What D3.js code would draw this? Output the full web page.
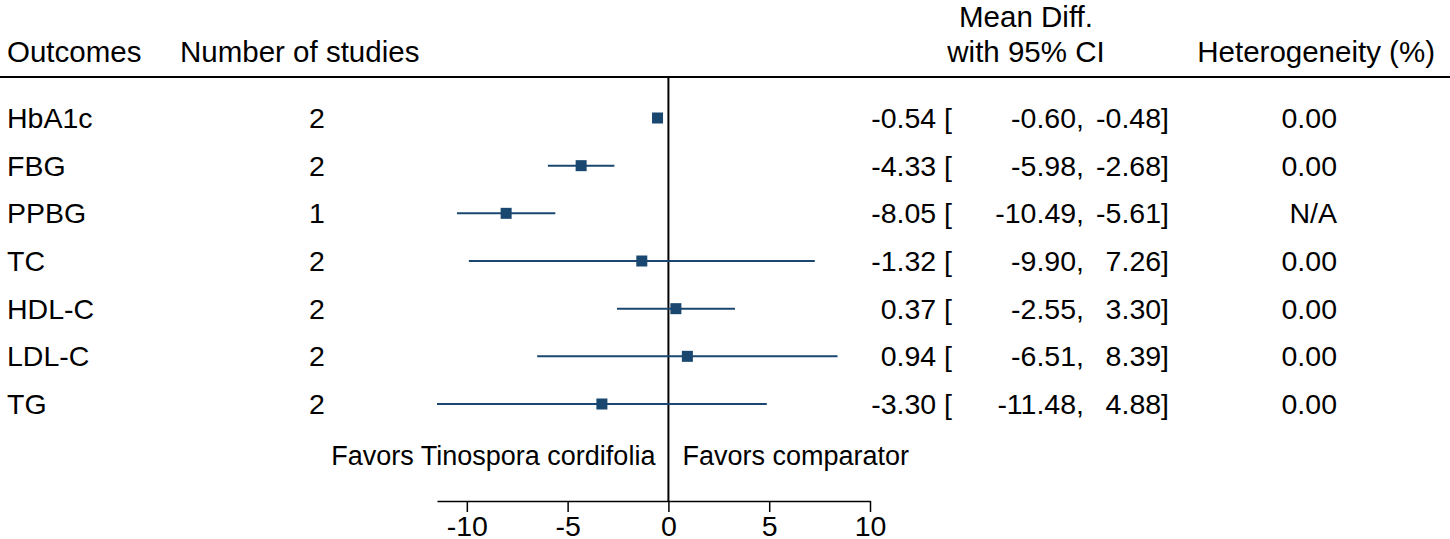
<!DOCTYPE html>
<html>
<head>
	<meta charset="UTF-8"/>
	<title>Forest plot - Tinospora cordifolia</title>
	<style type="text/css">
		body {
		margin: 0;
		background: #fff;
		font-family: 'Liberation Sans', Arial, sans-serif;
		}
		svg {
		display: block;
		}
		text {
		font-size: 28.5px;
		fill: #000;
		}
		text.head {
		font-size: 29.5px;
		}
		text.favors {
		font-size: 27px;
		}
		.ci {
		stroke: #1a476f;
		stroke-width: 2;
		}
		.est {
		fill: #1a476f;
		}
		.axis path, .axis line {
		stroke: #000;
		stroke-width: 1.5;
		}
		.axis text {
		font-size: 28.5px;
		font-family: 'Liberation Sans', Arial, sans-serif;
		}
	</style>
	<script src="https://d3js.org/d3.v7.min.js"></script>
</head>
<body>
	<svg width="1450" height="539"></svg>
	<script>
		// values
		const outcomes = ['HbA1c', 'FBG', 'PPBG', 'TC', 'HDL-C', 'LDL-C', 'TG'];
		const studies = [2, 2, 1, 2, 2, 2, 2];
		const meanDiff = [-0.54, -4.33, -8.05, -1.32, 0.37, 0.94, -3.30];
		const lower = [-0.60, -5.98, -10.49, -9.90, -2.55, -6.51, -11.48];
		const upper = [-0.48, -2.68, -5.61, 7.26, 3.30, 8.39, 4.88];
		const heterogeneity = ['0.00', '0.00', 'N/A', '0.00', '0.00', '0.00', '0.00'];
		const ticks = [-10, -5, 0, 5, 10];

		const rows = outcomes.map((o, i) => ({
			outcome: o, n: studies[i], md: meanDiff[i], lo: lower[i], hi: upper[i], het: heterogeneity[i]
		}));

		const svg = d3.select('svg');

		const x = d3.scaleLinear()
			.domain([d3.min(lower), 10])
			.range([437, 870]);

		const y = d3.scalePoint()
			.domain(outcomes)
			.range([118, 404]);

		const axisY = 501;
		const headY = 77;

		// header
		svg.append('text').attr('class', 'head').attr('x', 7).attr('y', 62).text('Outcomes');
		svg.append('text').attr('class', 'head').attr('x', 180).attr('y', 62).text('Number of studies');
		svg.append('text').attr('class', 'head').attr('x', 1026).attr('y', 27).attr('text-anchor', 'middle').text('Mean Diff.');
		svg.append('text').attr('class', 'head').attr('x', 1026).attr('y', 62).attr('text-anchor', 'middle').text('with 95% CI');
		svg.append('text').attr('class', 'head').attr('x', 1435).attr('y', 62).attr('text-anchor', 'end').text('Heterogeneity (%)');

		svg.append('line')
			.attr('x1', 0).attr('x2', 1450)
			.attr('y1', headY).attr('y2', headY)
			.attr('stroke', '#000').attr('stroke-width', 2);

		// zero line
		svg.append('line')
			.attr('x1', x(0)).attr('x2', x(0))
			.attr('y1', headY).attr('y2', axisY)
			.attr('stroke', '#000').attr('stroke-width', 2);

		// CIs and estimates
		const g = svg.selectAll('g.row')
			.data(rows)
			.enter()
			.append('g')
			.attr('class', 'row');

		g.append('line')
			.attr('class', 'ci')
			.attr('x1', d => x(d.lo))
			.attr('x2', d => x(d.hi))
			.attr('y1', d => y(d.outcome))
			.attr('y2', d => y(d.outcome));

		g.append('rect')
			.attr('class', 'est')
			.attr('x', d => x(d.md) - 5.5)
			.attr('y', d => y(d.outcome) - 5.5)
			.attr('width', 11)
			.attr('height', 11);

		// text columns
		g.append('text').attr('x', 7).attr('y', d => y(d.outcome)).attr('dy', '0.35em').text(d => d.outcome);
		g.append('text').attr('x', 317).attr('y', d => y(d.outcome)).attr('dy', '0.35em')
			.attr('text-anchor', 'middle').text(d => d.n);
		g.append('text').attr('x', 952).attr('y', d => y(d.outcome)).attr('dy', '0.35em')
			.attr('text-anchor', 'end').text(d => d.md.toFixed(2) + ' [');
		g.append('text').attr('x', 1084).attr('y', d => y(d.outcome)).attr('dy', '0.35em')
			.attr('text-anchor', 'end').text(d => d.lo.toFixed(2) + ',');
		g.append('text').attr('x', 1169).attr('y', d => y(d.outcome)).attr('dy', '0.35em')
			.attr('text-anchor', 'end').text(d => d.hi.toFixed(2) + ']');
		g.append('text').attr('x', 1337).attr('y', d => y(d.outcome)).attr('dy', '0.35em')
			.attr('text-anchor', 'end').text(d => d.het);

		// favors labels
		svg.append('text').attr('class', 'favors').attr('x', x(0) - 13).attr('y', 465).attr('text-anchor', 'end').text('Favors Tinospora cordifolia');
		svg.append('text').attr('class', 'favors').attr('x', x(0) + 14).attr('y', 465).text('Favors comparator');

		// x axis (hyphen minus like the original)
		svg.append('g')
			.attr('class', 'axis')
			.attr('transform', `translate(0, ${axisY})`)
			.call(d3.axisBottom(x).tickValues(ticks).tickSize(11).tickSizeOuter(0).tickPadding(4)
				.tickFormat(d => String(d)))
			.call(a => a.selectAll('text').attr('font-size', null).attr('font-family', null));
	</script>
</body>
</html>
